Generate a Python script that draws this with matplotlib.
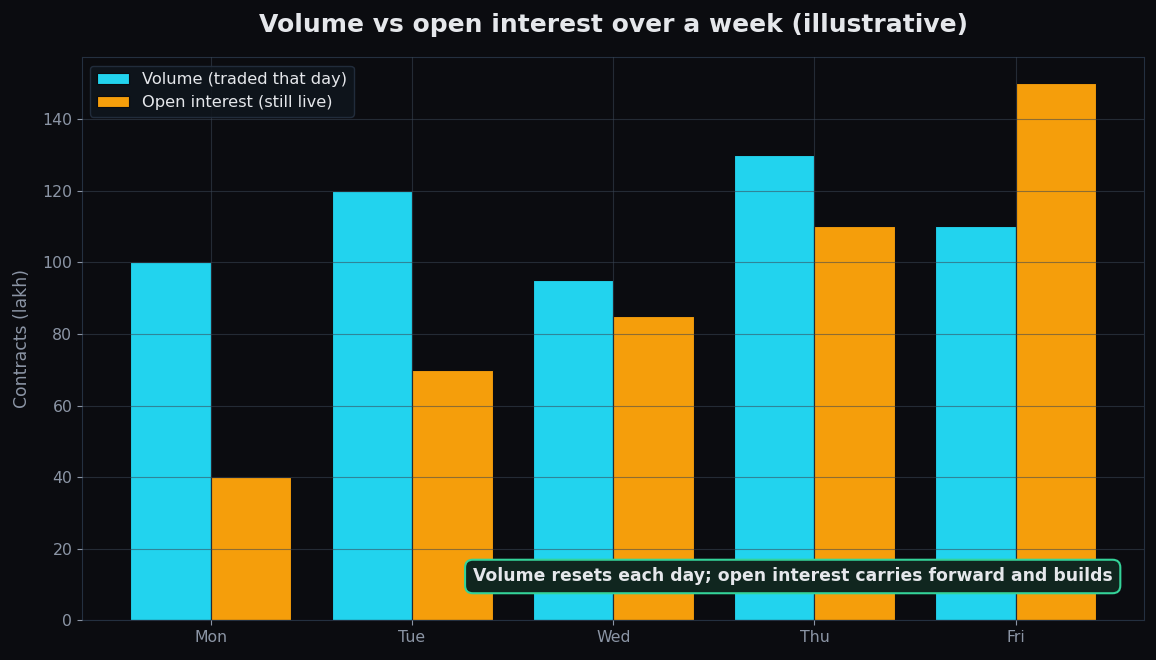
import matplotlib
matplotlib.use("Agg")
import matplotlib.pyplot as plt
import numpy as np

days = ["Mon", "Tue", "Wed", "Thu", "Fri"]
volume = [100, 120, 95, 130, 110]
open_interest = [40, 70, 85, 110, 150]

BG = "#0b0c10"
CYAN = "#22d3ee"
ORANGE = "#f59e0b"
TXT = "#e5e7eb"
MUTED = "#8b95a5"

plt.rcParams["font.family"] = "DejaVu Sans"

fig, ax = plt.subplots(figsize=(11.56, 6.6), dpi=100)
fig.patch.set_facecolor(BG)
ax.set_facecolor(BG)

x = np.arange(len(days))
w = 0.4
ax.bar(x - w / 2, volume, w, color=CYAN, edgecolor=BG, linewidth=0.8,
       label="Volume (traded that day)", zorder=2)
ax.bar(x + w / 2, open_interest, w, color=ORANGE, edgecolor=BG, linewidth=0.8,
       label="Open interest (still live)", zorder=2)

ax.set_axisbelow(False)
ax.grid(True, color="#3a4654", alpha=0.55, linewidth=0.8, zorder=3)

ax.set_xticks(x)
ax.set_xticklabels(days)
ax.set_ylim(0, 157.2)
ax.set_ylabel("Contracts (lakh)", color=MUTED, fontsize=12.4, labelpad=8)
ax.tick_params(colors=MUTED, labelsize=11.3)
for s in ax.spines.values():
    s.set_color("#243040")

ax.set_title("Volume vs open interest over a week (illustrative)",
             color=TXT, fontsize=18, fontweight="bold", pad=18)

leg = ax.legend(loc="upper left", fontsize=11.7, facecolor="#0f151d",
                edgecolor="#243040", framealpha=0.9)
for t in leg.get_texts():
    t.set_color(TXT)

ax.text(0.970, 0.078, "Volume resets each day; open interest carries forward and builds",
        transform=ax.transAxes, ha="right", va="center", fontsize=12.4,
        fontweight="bold", color=TXT, zorder=5,
        bbox=dict(boxstyle="round,pad=0.45", facecolor="#10261f",
                  edgecolor="#34d399", linewidth=1.5))

fig.subplots_adjust(left=0.071, right=0.99, bottom=0.06, top=0.913)
fig.savefig("out.png", dpi=100, facecolor=BG)
